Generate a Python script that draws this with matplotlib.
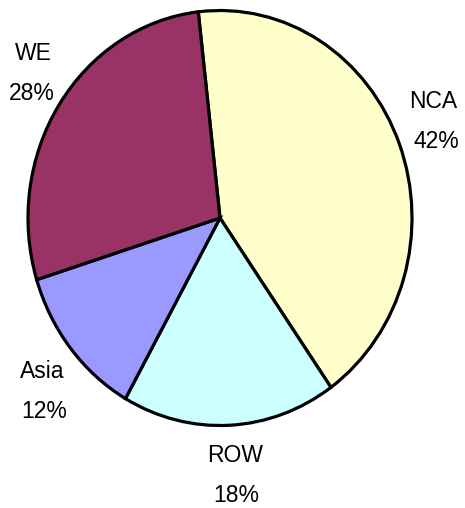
import matplotlib
matplotlib.use("Agg")
import matplotlib.pyplot as plt

regions = ["NCA", "ROW", "Asia", "WE"]
shares = [42, 18, 12, 28]
pct_labels = ["42%", "18%", "12%", "28%"]
colors = ["#FFFFCC", "#CCFFFF", "#9999FF", "#993366"]

W, H = 465, 508
cx, cy = 220, 218          # pie centre in pixels (from top-left)
rx, ry = 192, 207.5        # pie radii in pixels

fig = plt.figure(figsize=(W / 100, H / 100), dpi=100)
ax = fig.add_axes([0, 0, 1, 1])
ax.pie(shares, colors=colors, startangle=96.5, counterclock=False,
       wedgeprops=dict(edgecolor="black", linewidth=2.3))
ax.set_aspect("auto")
ax.set_xlim(-cx / rx, (W - cx) / rx)
ax.set_ylim(-(H - cy) / ry, cy / ry)
ax.axis("off")

# label positions (pixels): name centre, percent centre
label_pos = {
    "NCA": ((433, 101), (436, 141)),
    "ROW": ((235, 456), (236, 496)),
    "Asia": ((42, 371), (44, 412)),
    "WE": ((33, 54), (32, 94)),
}

def to_data(px, py):
    return (px - cx) / rx, (cy - py) / ry

for name, pct in zip(regions, pct_labels):
    (nx, ny), (qx, qy) = label_pos[name]
    for txt, (x, y) in ((name, to_data(nx, ny)), (pct, to_data(qx, qy))):
        ax.text(x, y, txt, ha="center", va="center", fontsize=16.5,
                family="Liberation Sans", color="black")

fig.savefig("out.png", dpi=100, facecolor="white")
